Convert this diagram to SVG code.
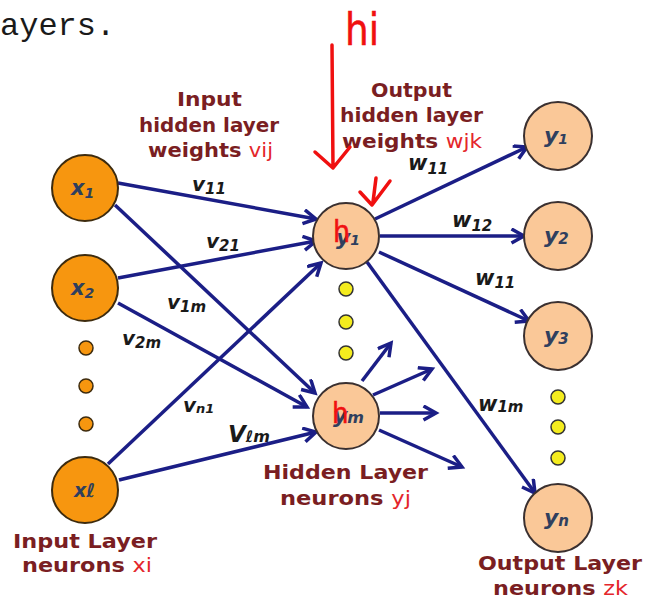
<svg xmlns="http://www.w3.org/2000/svg" width="646" height="600" viewBox="0 0 646 600">
  <defs>
    <style>
      .edge { stroke: #1B1E86; stroke-width: 3.5; fill: none; marker-end: url(#head); }
      .inNode { fill: #F7960F; stroke: #3D2B0E; stroke-width: 2; }
      .peach { fill: #FAC898; stroke: #3A3030; stroke-width: 2; }
      .odot { fill: #F7960F; stroke: #3D2B0E; stroke-width: 1.5; }
      .ydot { fill: #F4EC1E; stroke: #333; stroke-width: 1.5; }
      .nlab { font-family: "DejaVu Sans", Verdana, sans-serif; font-weight: bold; font-style: italic; fill: #2F3F5E; }
      .wlab { font-family: "DejaVu Sans", Verdana, sans-serif; font-weight: bold; font-style: italic; fill: #1A1A1A; }
      .title { font-family: "DejaVu Sans", Verdana, sans-serif; font-weight: bold; fill: #7A1E22; font-size: 19px; text-anchor: middle; }
      .red { fill: #E4262B; font-weight: normal; }
      .ink { stroke: #F01010; stroke-width: 3.5; fill: none; stroke-linecap: round; stroke-linejoin: round; }
      .hand { font-family: "DejaVu Sans Condensed", "DejaVu Sans", sans-serif; fill: #F01010; stroke: #F01010; stroke-width: 0.5; }
    </style>
    <marker id="head" markerUnits="userSpaceOnUse" markerWidth="20" markerHeight="20" refX="14" refY="8" orient="auto">
      <path d="M1.5,1 L14,8 L1.5,15" fill="none" stroke="#1B1E86" stroke-width="3.5" stroke-linejoin="miter"/>
    </marker>
  </defs>

  <rect width="646" height="600" fill="#FFFFFF"/>

  <!-- tail of the preceding sentence -->
  <text x="0" y="35" font-family="Liberation Mono, monospace" font-size="32" fill="#1A1A1A">ayers.</text>

  <!-- connectors -->
  <g id="connectors">
    <line class="edge" x1="118" y1="183" x2="316" y2="219"/>
    <line class="edge" x1="118" y1="278" x2="316" y2="241"/>
    <line class="edge" x1="108" y1="464" x2="321" y2="263"/>
    <line class="edge" x1="115" y1="205" x2="315" y2="393"/>
    <line class="edge" x1="118" y1="303" x2="307" y2="407"/>
    <line class="edge" x1="119" y1="480" x2="316" y2="432"/>
    <line class="edge" x1="375" y1="219" x2="527" y2="147"/>
    <line class="edge" x1="380" y1="236" x2="524" y2="236"/>
    <line class="edge" x1="379" y1="252" x2="529" y2="321"/>
    <line class="edge" x1="367" y1="262" x2="535" y2="493"/>
    <line class="edge" x1="362" y1="381" x2="391" y2="343"/>
    <line class="edge" x1="373" y1="395" x2="432" y2="369"/>
    <line class="edge" x1="380" y1="413" x2="436" y2="413"/>
    <line class="edge" x1="379" y1="430" x2="462" y2="467"/>
  </g>

  <!-- weight labels -->
  <g id="weights">
    <text class="wlab" x="192" y="191" font-size="20">v<tspan font-size="15" dy="3">11</tspan></text>
    <text class="wlab" x="206" y="248" font-size="20">v<tspan font-size="15" dy="3">21</tspan></text>
    <text class="wlab" x="167" y="309" font-size="20">v<tspan font-size="15" dy="3">1m</tspan></text>
    <text class="wlab" x="122" y="345" font-size="20">v<tspan font-size="15" dy="3">2m</tspan></text>
    <text class="wlab" x="183" y="412" font-size="20">v<tspan font-size="13" dy="1">n1</tspan></text>
    <text class="wlab" x="228" y="442" font-size="23">V<tspan font-size="16">ℓm</tspan></text>
    <text class="wlab" x="408" y="170" font-size="21">w<tspan font-size="15" dy="4">11</tspan></text>
    <text class="wlab" x="452" y="227" font-size="21">w<tspan font-size="15" dy="4">12</tspan></text>
    <text class="wlab" x="475" y="285" font-size="21">w<tspan font-size="15" dy="3">11</tspan></text>
    <text class="wlab" x="478" y="411" font-size="21">w<tspan font-size="15" dy="1">1m</tspan></text>
  </g>

  <!-- input layer -->
  <g id="x1">
    <circle class="inNode" cx="85" cy="188" r="33"/>
    <text class="nlab" x="71" y="195" font-size="21">x<tspan font-size="14" dy="3">1</tspan></text>
  </g>
  <g id="x2">
    <circle class="inNode" cx="85" cy="288" r="33"/>
    <text class="nlab" x="71" y="295" font-size="21">x<tspan font-size="14" dy="3">2</tspan></text>
  </g>
  <g id="input-dots">
    <circle class="odot" cx="86" cy="348" r="7"/>
    <circle class="odot" cx="86" cy="386" r="7"/>
    <circle class="odot" cx="86" cy="424" r="7"/>
  </g>
  <g id="xl">
    <circle class="inNode" cx="85" cy="490" r="33"/>
    <text class="nlab" x="74" y="497" font-size="19">xℓ</text>
  </g>

  <!-- hidden layer -->
  <g id="h1">
    <circle class="peach" cx="346" cy="236" r="33"/>
    <text class="nlab" x="336" y="245" font-size="22" fill="#4A5670">y<tspan font-size="14">1</tspan></text>
  </g>
  <g id="hidden-dots">
    <circle class="ydot" cx="346" cy="289" r="7"/>
    <circle class="ydot" cx="346" cy="322" r="7"/>
    <circle class="ydot" cx="346" cy="353" r="7"/>
  </g>
  <g id="hm">
    <circle class="peach" cx="346" cy="416" r="33"/>
    <text class="nlab" x="333" y="423" font-size="22" fill="#4A5670">y<tspan font-size="16">m</tspan></text>
  </g>

  <!-- output layer -->
  <g id="o1">
    <circle class="peach" cx="558" cy="136" r="34"/>
    <text class="nlab" x="544" y="143" font-size="22">y<tspan font-size="14" dy="1">1</tspan></text>
  </g>
  <g id="o2">
    <circle class="peach" cx="558" cy="236" r="34"/>
    <text class="nlab" x="544" y="243" font-size="22">y<tspan font-size="15" dy="1">2</tspan></text>
  </g>
  <g id="o3">
    <circle class="peach" cx="558" cy="336" r="34"/>
    <text class="nlab" x="544" y="343" font-size="22">y<tspan font-size="15" dy="1">3</tspan></text>
  </g>
  <g id="output-dots">
    <circle class="ydot" cx="558" cy="397" r="7"/>
    <circle class="ydot" cx="558" cy="427" r="7"/>
    <circle class="ydot" cx="558" cy="458" r="7"/>
  </g>
  <g id="on">
    <circle class="peach" cx="558" cy="518" r="34"/>
    <text class="nlab" x="544" y="525" font-size="22">y<tspan font-size="15" dy="1">n</tspan></text>
  </g>

  <!-- layer captions -->
  <g id="captions">
    <text class="title" x="209.5" y="106" textLength="65" lengthAdjust="spacingAndGlyphs">Input</text>
    <text class="title" x="209" y="132" textLength="140" lengthAdjust="spacingAndGlyphs">hidden layer</text>
    <text class="title" x="210.5" y="157" textLength="125" lengthAdjust="spacingAndGlyphs">weights <tspan class="red">vij</tspan></text>
    <text class="title" x="411.5" y="97" textLength="81" lengthAdjust="spacingAndGlyphs">Output</text>
    <text class="title" x="411.5" y="122" textLength="143" lengthAdjust="spacingAndGlyphs">hidden layer</text>
    <text class="title" x="412" y="148" textLength="140" lengthAdjust="spacingAndGlyphs">weights <tspan class="red">wjk</tspan></text>
    <text class="title" x="345.5" y="479" font-size="21" textLength="165" lengthAdjust="spacingAndGlyphs">Hidden Layer</text>
    <text class="title" x="345.5" y="505" font-size="21" textLength="131" lengthAdjust="spacingAndGlyphs">neurons <tspan class="red">yj</tspan></text>
    <text class="title" x="85" y="548" font-size="21" textLength="144" lengthAdjust="spacingAndGlyphs">Input Layer</text>
    <text class="title" x="87" y="572" font-size="21" textLength="130" lengthAdjust="spacingAndGlyphs">neurons <tspan class="red">xi</tspan></text>
    <text class="title" x="560" y="570" font-size="21" textLength="164" lengthAdjust="spacingAndGlyphs">Output Layer</text>
    <text class="title" x="560.5" y="595" font-size="21" textLength="135" lengthAdjust="spacingAndGlyphs">neurons <tspan class="red">zk</tspan></text>
  </g>

  <!-- red pen notes -->
  <g id="notes">
    <text class="hand" x="345" y="45" font-size="44" textLength="34" lengthAdjust="spacingAndGlyphs">hi</text>
    <path class="ink" d="M332,45 L333,168 M315,152 L333,168 L350,147"/>
    <path class="ink" d="M360,192 L372,205 L390,181 M376,178 L373,202"/>
    <text class="hand" x="333" y="242" font-size="30" stroke-width="2">h</text>
    <text class="hand" x="332" y="423" font-size="29" stroke-width="2">h</text>
  </g>
</svg>
